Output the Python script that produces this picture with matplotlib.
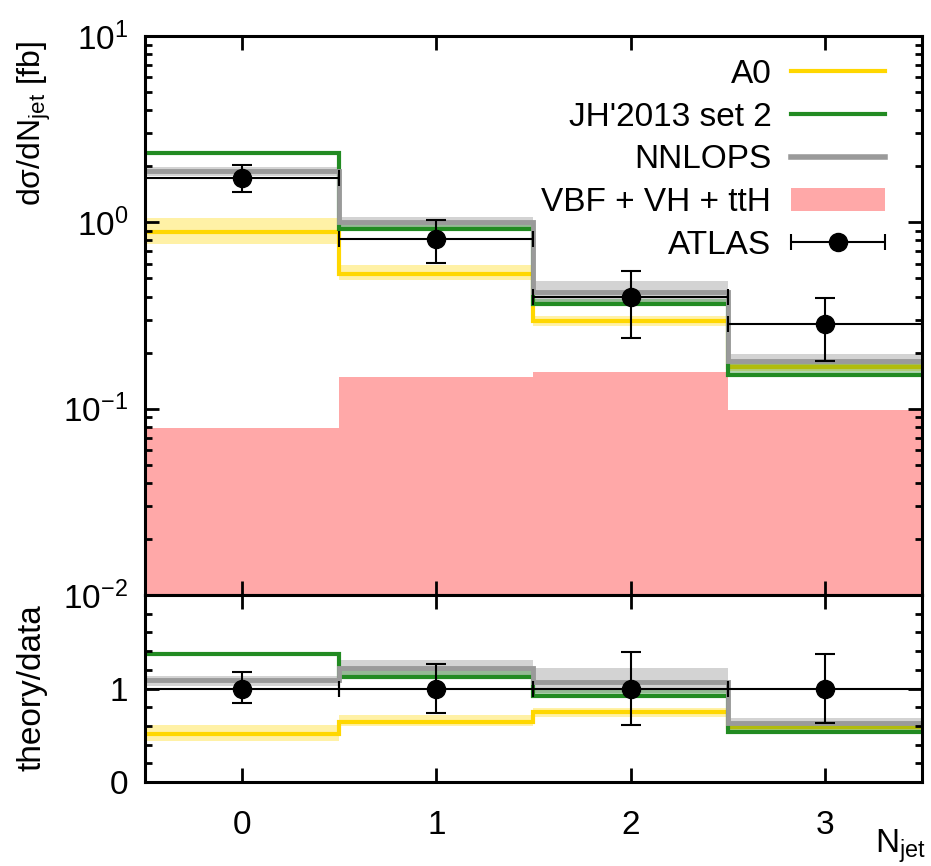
import numpy as np
import matplotlib
matplotlib.use('Agg')
import matplotlib.pyplot as plt
from matplotlib.legend_handler import HandlerErrorbar
from matplotlib.lines import Line2D
from matplotlib.patches import Patch
from matplotlib.ticker import MultipleLocator, NullLocator

# jet multiplicity bins
njet = [0, 1, 2, 3]
edges = [-0.5, 0.5, 1.5, 2.5, 3.5]

# ATLAS measurement [fb] with upper / lower error band edges
atlas = [1.73, 0.818, 0.396, 0.286]
atlas_hi = [2.03, 1.03, 0.55, 0.392]
atlas_lo = [1.46, 0.605, 0.241, 0.181]

# predictions [fb]
a0 = [0.887, 0.528, 0.297, 0.168]
a0_hi = [1.06, 0.59, 0.313, 0.175]
a0_lo = [0.765, 0.49, 0.277, 0.160]

jh = [2.37, 0.92, 0.364, 0.152]
jh_hi = [2.41, 0.99, 0.39, 0.175]
jh_lo = [2.37, 0.92, 0.364, 0.152]

nnlops = [1.88, 1.0, 0.425, 0.180]
nnlops_hi = [1.97, 1.07, 0.483, 0.196]
nnlops_lo = [1.78, 0.92, 0.375, 0.170]

vbf = [0.0784, 0.148, 0.157, 0.098]

YELLOW = '#ffd700'
GREEN = '#228b22'
GRAY = '#9a9a9a'
PINK = '#ffa8a8'


def draw_curves(ax, norm):
    n = np.asarray(norm, dtype=float)
    ax.stairs(np.divide(nnlops_hi, n), edges, baseline=np.divide(nnlops_lo, n),
              fill=True, color='#d3d3d3', lw=0)
    ax.stairs(np.divide(a0_hi, n), edges, baseline=np.divide(a0_lo, n),
              fill=True, color=YELLOW, alpha=0.35, lw=0)
    ax.stairs(np.divide(a0, n), edges, baseline=None, color=YELLOW, lw=3)
    ax.stairs(np.divide(jh_hi, n), edges, baseline=np.divide(jh_lo, n),
              fill=True, color=GREEN, alpha=0.35, lw=0)
    ax.stairs(np.divide(jh, n), edges, baseline=None, color=GREEN, lw=3)
    ax.stairs(np.divide(nnlops, n), edges, baseline=None, color=GRAY, lw=3.5)

    y = np.divide(atlas, n)
    hi = np.divide(atlas_hi, n)
    lo = np.divide(atlas_lo, n)
    pts = ax.errorbar(njet, y, xerr=0.5, fmt='o', color='black', ms=13,
                      lw=1.5, capsize=6, capthick=1.5, zorder=5)
    ax.errorbar(njet, y, yerr=[y - lo, hi - y], fmt='none', ecolor='black',
                lw=1.5, capsize=7, capthick=1.5, zorder=5)
    return pts


def style_axes(ax):
    ax.set_xlim(-0.5, 3.5)
    ax.set_xticks(njet)
    ax.xaxis.set_minor_locator(NullLocator())
    ax.tick_params(which='both', direction='in', top=True, right=True,
                   width=2, labelsize=24)
    ax.tick_params(which='major', length=10, pad=12)
    ax.tick_params(axis='x', which='major', pad=20)
    ax.tick_params(which='minor', length=5)
    for s in ax.spines.values():
        s.set_linewidth(2.2)


def main():
    plt.rcParams['font.family'] = ['Liberation Sans', 'DejaVu Sans']
    plt.rcParams['mathtext.fontset'] = 'custom'
    plt.rcParams['mathtext.rm'] = 'Liberation Sans'
    plt.rcParams['mathtext.it'] = 'Liberation Sans:italic'
    plt.rcParams['mathtext.default'] = 'regular'

    fig = plt.figure(figsize=(9.31, 8.66), dpi=100)
    top = fig.add_axes([0.1557, 0.3129, 0.8346, 0.6455])
    bot = fig.add_axes([0.1557, 0.0970, 0.8346, 0.2159])

    # main panel
    top.bar(njet, vbf, width=1.0, color=PINK, lw=0, zorder=0)
    pts = draw_curves(top, np.ones(4))
    top.set_yscale('log')
    top.set_ylim(1e-2, 10)
    style_axes(top)
    top.tick_params(labelbottom=False)

    handles = [Line2D([], [], color=YELLOW, lw=3),
               Line2D([], [], color=GREEN, lw=3),
               Line2D([], [], color=GRAY, lw=4),
               Patch(facecolor=PINK, lw=0),
               pts]
    labels = ['A0', "JH'2013 set 2", 'NNLOPS', 'VBF + VH + ttH', 'ATLAS']
    top.legend(handles, labels, loc='upper right', bbox_to_anchor=(0.952, 0.959),
               frameon=False, markerfirst=False, fontsize=24, numpoints=1,
               handlelength=2.8, handletextpad=0.6, labelspacing=0.35,
               borderpad=0, borderaxespad=0,
               handler_map={type(pts): HandlerErrorbar(xerr_size=1.4)})

    # ratio panel
    draw_curves(bot, atlas)
    bot.set_ylim(0, 2)
    bot.set_yticks([0, 1])
    bot.yaxis.set_minor_locator(MultipleLocator(0.2))
    style_axes(bot)

    fig.text(0.037, 0.858, r'dσ/dN$_\mathregular{jet}$ [fb]', rotation=90,
             ha='center', va='center', fontsize=23)
    fig.text(0.034, 0.2055, 'theory/data', rotation=90,
             ha='center', va='center', fontsize=24)
    fig.text(0.995, 0.015, r'N$_\mathregular{jet}$', ha='right',
             va='baseline', fontsize=24)

    fig.savefig('out.png', dpi=100)


if __name__ == '__main__':
    main()
